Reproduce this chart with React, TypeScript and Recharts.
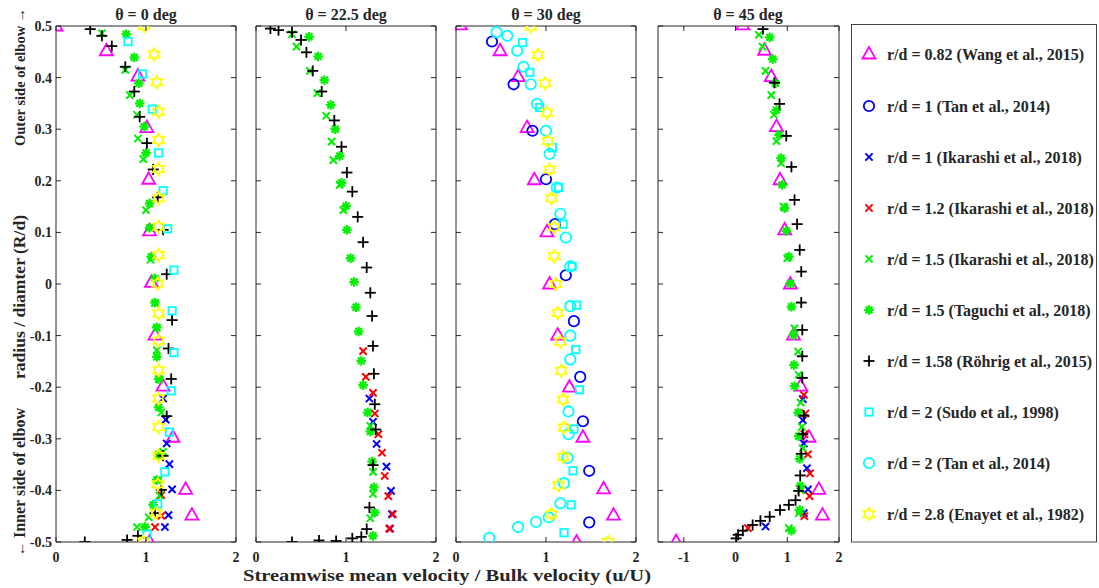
import React from 'react';
import { ScatterChart, Scatter, XAxis, YAxis, ReferenceArea } from 'recharts';

type Pt = [number, number]; // [u/U, R/d]

const FONT = '"Liberation Serif", "Times New Roman", serif';
const INK = '#262626';

// ---------- labels / ticks ----------
const panelTitles = ['θ = 0 deg', 'θ = 22.5 deg', 'θ = 30 deg', 'θ = 45 deg'];
const yTicks = [-0.5, -0.4, -0.3, -0.2, -0.1, 0, 0.1, 0.2, 0.3, 0.4, 0.5];
const xTicksStd = [0, 1, 2];
const xTicks45 = [-1, 0, 1, 2];
const xDomainStd: [number, number] = [0, 2];
const xDomain45: [number, number] = [-1.5, 2];
const xLabel = 'Streamwise mean velocity / Bulk velocity (u/U)';
const yLabelOuter = 'Outer side of elbow';
const yLabelMid = 'radius / diamter (R/d)';
const yLabelInner = 'Inner side of elbow';
const arrowUp = '→';
const arrowDown = '←';

// ---------- series meta ----------
const seriesKeys = ['wang', 'tan1', 'ika1', 'ika12', 'ika15', 'tag', 'roh', 'sudo', 'tan2', 'ena'];
const seriesLabels = [
  'r/d = 0.82 (Wang et al., 2015)',
  'r/d = 1 (Tan et al., 2014)',
  'r/d = 1 (Ikarashi et al., 2018)',
  'r/d = 1.2 (Ikarashi et al., 2018)',
  'r/d = 1.5 (Ikarashi et al., 2018)',
  'r/d = 1.5 (Taguchi et al., 2018)',
  'r/d = 1.58 (Röhrig et al., 2015)',
  'r/d = 2 (Sudo et al., 1998)',
  'r/d = 2 (Tan et al., 2014)',
  'r/d = 2.8 (Enayet et al., 1982)',
];
const seriesColors = ['#ff00ff', '#0000ff', '#0000ff', '#ff0000', '#00f000', '#00f000', '#000000', '#00ffff', '#00ffff', '#ffff00'];
const seriesShapes = ['triangle', 'circle', 'x', 'x', 'x', 'asterisk', 'plus', 'square', 'circle', 'hexagram'];

// ---------- θ = 0 deg ----------
const wang0: Pt[] = [[0, 0.5], [0.56, 0.452], [0.91, 0.403], [1.01, 0.303], [1.03, 0.203], [1.04, 0.103], [1.06, 0.003], [1.10, -0.099], [1.19, -0.198], [1.30, -0.297], [1.44, -0.398], [1.51, -0.448], [1.04, -0.5]];
const ika1_0: Pt[] = [[1.19, -0.222], [1.22, -0.263], [1.23, -0.309], [1.26, -0.349], [1.29, -0.398], [1.25, -0.448], [1.21, -0.471]];
const ika12_0: Pt[] = [[1.17, -0.409], [1.17, -0.449], [1.10, -0.471]];
const ika15_0: Pt[] = [[0.51, 0.486], [0.77, 0.415], [0.82, 0.366], [0.90, 0.328], [0.91, 0.282], [0.97, 0.242], [1.00, 0.143], [1.05, 0.047], [1.10, -0.037], [1.12, -0.085], [1.12, -0.128], [1.15, -0.185], [1.17, -0.249], [1.19, -0.325], [1.14, -0.38], [1.15, -0.41], [1.03, -0.452], [0.90, -0.471]];
const tag0: Pt[] = [[0.78, 0.484], [0.87, 0.439], [0.92, 0.389], [0.93, 0.35], [0.98, 0.305], [1.0, 0.254], [1.04, 0.156], [1.04, 0.109], [1.06, 0.053], [1.10, 0.011], [1.10, -0.036], [1.12, -0.084], [1.12, -0.141], [1.14, -0.184], [1.14, -0.239], [1.14, -0.33], [1.12, -0.38], [1.08, -0.428], [0.99, -0.471]];
const roh0: Pt[] = [[0.38, 0.494], [0.51, 0.481], [0.62, 0.461], [0.77, 0.421], [0.87, 0.373], [0.93, 0.324], [1.01, 0.273], [1.08, 0.222], [1.13, 0.168], [1.19, 0.105], [1.23, 0.019], [1.29, -0.070], [1.25, -0.125], [1.28, -0.184], [1.23, -0.256], [1.19, -0.333], [1.17, -0.399], [1.10, -0.444], [0.91, -0.488], [0.79, -0.496], [0.32, -0.5]];
const sudo0: Pt[] = [[0.80, 0.470], [0.96, 0.407], [1.07, 0.339], [1.14, 0.254], [1.19, 0.181], [1.24, 0.107], [1.31, 0.027], [1.29, -0.052], [1.31, -0.133], [1.28, -0.207], [1.26, -0.287], [1.21, -0.364], [1.13, -0.426], [1.01, -0.485]];
const ena0: Pt[] = [[0.98, 0.5], [1.09, 0.445], [1.12, 0.391], [1.14, 0.334], [1.14, 0.279], [1.14, 0.223], [1.14, 0.166], [1.14, 0.111], [1.14, 0.056], [1.13, 0.001], [1.14, -0.057], [1.14, -0.110], [1.14, -0.167], [1.14, -0.222], [1.14, -0.277], [1.14, -0.333], [1.13, -0.388], [1.11, -0.444], [0.97, -0.499]];

// ---------- θ = 22.5 deg ----------
const ika1_22: Pt[] = [[1.26, -0.222], [1.30, -0.267], [1.34, -0.310], [1.45, -0.354], [1.50, -0.401], [1.51, -0.446], [1.49, -0.474]];
const ika12_22: Pt[] = [[1.19, -0.130], [1.22, -0.180], [1.30, -0.211], [1.32, -0.251], [1.36, -0.291], [1.40, -0.327], [1.43, -0.372], [1.47, -0.411], [1.52, -0.446], [1.48, -0.474]];
const ika15_22: Pt[] = [[0.40, 0.484], [0.45, 0.460], [0.60, 0.413], [0.68, 0.370], [0.78, 0.326], [0.84, 0.276], [0.86, 0.240], [0.93, 0.192], [0.97, 0.143], [1.27, -0.275], [1.30, -0.364], [1.30, -0.407], [1.27, -0.454]];
const tag22: Pt[] = [[0.59, 0.479], [0.69, 0.441], [0.76, 0.395], [0.83, 0.347], [0.88, 0.300], [0.93, 0.248], [0.95, 0.196], [1.0, 0.151], [1.01, 0.105], [1.05, 0.050], [1.09, 0.004], [1.11, -0.045], [1.14, -0.092], [1.17, -0.149], [1.19, -0.196], [1.24, -0.249], [1.27, -0.286], [1.29, -0.344], [1.31, -0.394], [1.32, -0.443], [1.30, -0.488]];
const roh22: Pt[] = [[0.16, 0.495], [0.25, 0.492], [0.40, 0.488], [0.50, 0.473], [0.56, 0.449], [0.63, 0.413], [0.73, 0.373], [0.87, 0.317], [0.95, 0.266], [1.01, 0.216], [1.07, 0.179], [1.13, 0.130], [1.19, 0.081], [1.23, 0.032], [1.27, -0.017], [1.29, -0.062], [1.30, -0.120], [1.31, -0.174], [1.32, -0.233], [1.33, -0.282], [1.30, -0.351], [1.26, -0.433], [1.23, -0.475], [1.17, -0.490], [1.07, -0.493], [0.89, -0.498], [0.70, -0.497], [0.40, -0.5]];

// ---------- θ = 30 deg ----------
const wang30: Pt[] = [[0.05, 0.502], [0.49, 0.452], [0.69, 0.402], [0.79, 0.303], [0.87, 0.202], [1.01, 0.101], [1.04, 0.0], [1.13, -0.099], [1.26, -0.200], [1.41, -0.297], [1.64, -0.397], [1.75, -0.448], [1.34, -0.5]];
const tan1_30: Pt[] = [[0.40, 0.470], [0.64, 0.387], [0.85, 0.297], [1.0, 0.203], [1.10, 0.116], [1.22, 0.017], [1.31, -0.072], [1.38, -0.180], [1.41, -0.266], [1.48, -0.362], [1.48, -0.462]];
const sudo30: Pt[] = [[0.74, 0.468], [0.82, 0.410], [0.93, 0.342], [1.07, 0.264], [1.14, 0.187], [1.19, 0.116], [1.29, 0.034], [1.34, -0.041], [1.33, -0.127], [1.37, -0.205], [1.31, -0.281], [1.30, -0.362], [1.28, -0.428], [1.20, -0.482]];
const tan2_30: Pt[] = [[0.45, 0.488], [0.57, 0.481], [0.68, 0.452], [0.75, 0.421], [0.83, 0.387], [0.90, 0.349], [1.0, 0.297], [1.04, 0.252], [1.12, 0.187], [1.16, 0.136], [1.22, 0.090], [1.27, 0.034], [1.27, -0.043], [1.27, -0.100], [1.27, -0.146], [1.25, -0.247], [1.25, -0.291], [1.24, -0.337], [1.20, -0.386], [1.16, -0.425], [1.03, -0.452], [0.89, -0.461], [0.69, -0.471], [0.37, -0.492]];
const ena30: Pt[] = [[0.83, 0.499], [0.91, 0.444], [0.99, 0.389], [1.01, 0.332], [1.02, 0.277], [1.04, 0.222], [1.06, 0.166], [1.09, 0.110], [1.09, 0.054], [1.11, 0.0], [1.13, -0.056], [1.16, -0.112], [1.17, -0.168], [1.19, -0.224], [1.20, -0.278], [1.19, -0.335], [1.14, -0.390], [1.06, -0.446], [1.69, -0.5]];

// ---------- θ = 45 deg ----------
const wang45: Pt[] = [[0.14, 0.502], [0.56, 0.453], [0.69, 0.402], [0.79, 0.305], [0.86, 0.202], [0.95, 0.105], [1.06, 0.0], [1.12, -0.099], [1.26, -0.198], [1.42, -0.297], [1.61, -0.398], [1.68, -0.448], [-1.15, -0.499]];
const ika1_45: Pt[] = [[1.30, -0.223], [1.30, -0.264], [1.32, -0.309], [1.38, -0.357], [1.40, -0.398], [1.32, -0.444], [0.58, -0.470]];
const ika12_45: Pt[] = [[1.32, -0.215], [1.35, -0.251], [1.33, -0.291], [1.40, -0.330], [1.44, -0.367], [1.43, -0.411], [1.33, -0.450], [0.24, -0.473]];
const ika15_45: Pt[] = [[0.45, 0.483], [0.52, 0.460], [0.58, 0.413], [0.69, 0.366], [0.74, 0.328], [0.79, 0.277], [0.88, 0.234], [0.93, 0.15], [1.00, 0.05], [1.14, -0.086], [1.21, -0.131], [1.22, -0.176], [1.26, -0.23], [1.28, -0.277], [1.30, -0.318], [1.26, -0.40], [1.22, -0.444], [1.03, -0.473]];
const tag45: Pt[] = [[0.66, 0.478], [0.72, 0.436], [0.77, 0.389], [0.79, 0.337], [0.84, 0.289], [0.88, 0.244], [0.90, 0.192], [0.95, 0.147], [0.98, 0.103], [1.03, 0.053], [1.06, 0.001], [1.08, -0.044], [1.12, -0.099], [1.13, -0.157], [1.14, -0.198], [1.21, -0.249], [1.22, -0.295], [1.24, -0.339], [1.25, -0.391], [1.24, -0.438], [1.08, -0.478]];
const roh45: Pt[] = [[0.53, 0.494], [0.75, 0.39], [0.85, 0.349], [0.98, 0.287], [1.08, 0.227], [1.14, 0.163], [1.19, 0.116], [1.24, 0.066], [1.27, 0.024], [1.27, -0.036], [1.29, -0.089], [1.29, -0.140], [1.29, -0.182], [1.32, -0.255], [1.30, -0.291], [1.27, -0.329], [1.25, -0.371], [1.22, -0.401], [1.16, -0.419], [1.03, -0.428], [0.86, -0.438], [0.66, -0.451], [0.48, -0.459], [0.33, -0.467], [0.14, -0.478], [0.05, -0.486], [0.01, -0.493]];

const none: Pt[] = [];

// per panel, in legend (drawing) order
const panelSeries: Pt[][][] = [
  [wang0, none, ika1_0, ika12_0, ika15_0, tag0, roh0, sudo0, none, ena0],
  [none, none, ika1_22, ika12_22, ika15_22, tag22, roh22, none, none, none],
  [wang30, tan1_30, none, none, none, none, none, sudo30, tan2_30, ena30],
  [wang45, none, ika1_45, ika12_45, ika15_45, tag45, roh45, none, none, none],
];

// ---------- markers ----------
function Marker({ kind, color, cx, cy }: { kind: string; color: string; cx: number; cy: number }) {
  const sw = 1.8;
  switch (kind) {
    case 'triangle':
      return <polygon points={`${cx},${cy - 7} ${cx - 6.5},${cy + 4.5} ${cx + 6.5},${cy + 4.5}`} fill="none" stroke={color} strokeWidth={sw} />;
    case 'circle':
      return <circle cx={cx} cy={cy} r={5.2} fill="none" stroke={color} strokeWidth={sw} />;
    case 'x': {
      const d = 3.6;
      return (
        <g stroke={color} strokeWidth={2}>
          <line x1={cx - d} y1={cy - d} x2={cx + d} y2={cy + d} />
          <line x1={cx - d} y1={cy + d} x2={cx + d} y2={cy - d} />
        </g>
      );
    }
    case 'asterisk': {
      const d = 4.8;
      const e = 3.4;
      return (
        <g stroke={color} strokeWidth={2.2}>
          <line x1={cx - d} y1={cy} x2={cx + d} y2={cy} />
          <line x1={cx} y1={cy - d} x2={cx} y2={cy + d} />
          <line x1={cx - e} y1={cy - e} x2={cx + e} y2={cy + e} />
          <line x1={cx - e} y1={cy + e} x2={cx + e} y2={cy - e} />
        </g>
      );
    }
    case 'plus': {
      const d = 5.5;
      return (
        <g stroke={color} strokeWidth={1.8}>
          <line x1={cx - d} y1={cy} x2={cx + d} y2={cy} />
          <line x1={cx} y1={cy - d} x2={cx} y2={cy + d} />
        </g>
      );
    }
    case 'square':
      return <rect x={cx - 3.7} y={cy - 3.7} width={7.4} height={7.4} fill="none" stroke={color} strokeWidth={sw} />;
    case 'hexagram': {
      const R = 6.2;
      const r = R / Math.sqrt(3);
      const pts: string[] = [];
      for (let k = 0; k < 12; k++) {
        const a = -Math.PI / 2 + (k * Math.PI) / 6;
        const rad = k % 2 === 0 ? R : r;
        pts.push(`${cx + rad * Math.cos(a)},${cy + rad * Math.sin(a)}`);
      }
      return <polygon points={pts.join(' ')} fill="none" stroke={color} strokeWidth={sw} />;
    }
    default:
      return null;
  }
}

const fmt = (v: number) => {
  const r = Math.round(v * 10) / 10;
  return r === 0 ? '0' : String(r);
};

const CHART_H = 588;
const M_TOP = 26;
const M_BOTTOM = 16;
const X_AXIS_H = 30;
const PLOT_H = CHART_H - M_TOP - M_BOTTOM - X_AXIS_H; // 516

interface PanelProps {
  idx: number;
  left: number;
  width: number;
  yW: number;
  mr: number;
  domain: [number, number];
  xTicks: number[];
  showY: boolean;
}

function Panel({ idx, left, width, yW, mr, domain, xTicks, showY }: PanelProps) {
  const plotW = width - yW - mr;
  const series = panelSeries[idx];
  const yTick = (p: any) => {
    const { x, y, payload } = p;
    return (
      <g>
        <line x1={x} x2={x + 5} y1={y} y2={y} stroke={INK} strokeWidth={1} />
        <line x1={x + plotW} x2={x + plotW - 5} y1={y} y2={y} stroke={INK} strokeWidth={1} />
        {showY && (
          <text x={x - 4} y={y} dy="0.35em" textAnchor="end" fontFamily={FONT} fontWeight="bold" fontSize={14} fill={INK}>
            {fmt(payload.value)}
          </text>
        )}
      </g>
    );
  };
  const xTick = (p: any) => {
    const { x, y, payload } = p;
    return (
      <g>
        <line x1={x} x2={x} y1={y} y2={y - 5} stroke={INK} strokeWidth={1} />
        <line x1={x} x2={x} y1={y - PLOT_H} y2={y - PLOT_H + 5} stroke={INK} strokeWidth={1} />
        <text x={x} y={y + 20} textAnchor="middle" fontFamily={FONT} fontWeight="bold" fontSize={14} fill={INK}>
          {String(payload.value)}
        </text>
      </g>
    );
  };
  return (
    <div style={{ position: 'absolute', left, top: 0 }}>
      <ScatterChart width={width} height={CHART_H} margin={{ top: M_TOP, right: mr, bottom: M_BOTTOM, left: 0 }}>
        <XAxis
          type="number"
          dataKey="x"
          domain={domain}
          ticks={xTicks}
          interval={0}
          allowDataOverflow
          height={X_AXIS_H}
          tickSize={0}
          tickMargin={0}
          axisLine={false}
          tickLine={false}
          tick={xTick}
        />
        <YAxis
          type="number"
          dataKey="y"
          domain={[-0.5, 0.5]}
          ticks={yTicks}
          interval={0}
          allowDataOverflow
          width={yW}
          tickSize={0}
          tickMargin={0}
          axisLine={false}
          tickLine={false}
          tick={yTick}
        />
        <ReferenceArea x1={domain[0]} x2={domain[1]} y1={-0.5} y2={0.5} fill="none" fillOpacity={0} stroke={INK} strokeWidth={1} ifOverflow="visible" />
        {series.map((pts, si) =>
          pts.length ? (
            <Scatter
              key={seriesKeys[si]}
              name={seriesLabels[si]}
              data={pts.map(([u, r]) => ({ x: u, y: r }))}
              isAnimationActive={false}
              shape={(sp: any) => <Marker kind={seriesShapes[si]} color={seriesColors[si]} cx={sp.cx} cy={sp.cy} />}
            />
          ) : null
        )}
      </ScatterChart>
    </div>
  );
}

const legendRowsY = [54, 106, 157, 208, 259, 310, 361, 412, 463, 514];

export default function App() {
  return (
    <div style={{ position: 'absolute', left: 0, top: 0, width: 1099, height: 588, background: '#fff', overflow: 'hidden' }}>
      <Panel idx={0} left={0} width={246} yW={56} mr={10} domain={xDomainStd} xTicks={xTicksStd} showY />
      <Panel idx={1} left={246} width={200} yW={10} mr={10} domain={xDomainStd} xTicks={xTicksStd} showY={false} />
      <Panel idx={2} left={446} width={200} yW={10} mr={10} domain={xDomainStd} xTicks={xTicksStd} showY={false} />
      <Panel idx={3} left={646} width={203} yW={12} mr={10} domain={xDomain45} xTicks={xTicks45} showY={false} />
      <svg width={1099} height={588} style={{ position: 'absolute', left: 0, top: 0, pointerEvents: 'none' }}>
        <g fontFamily={FONT} fontWeight="bold" fill={INK}>
          {[146, 346, 546, 748].map((cx, i) => (
            <text key={i} x={cx} y={20} textAnchor="middle" fontSize={16}>
              {panelTitles[i]}
            </text>
          ))}
          <text x={447} y={581} textAnchor="middle" fontSize={16} textLength={408} lengthAdjust="spacingAndGlyphs">
            {xLabel}
          </text>
          <text transform="translate(25,146) rotate(-90)" textAnchor="start" fontSize={14.5}>
            {yLabelOuter} <tspan fontSize={14}>{arrowUp}</tspan>
          </text>
          <text transform="translate(25,297) rotate(-90)" textAnchor="middle" fontSize={16} textLength={164} lengthAdjust="spacingAndGlyphs">
            {yLabelMid}
          </text>
          <text transform="translate(25,556) rotate(-90)" textAnchor="start" fontSize={16}>
            <tspan fontSize={14}>{arrowDown}</tspan> {yLabelInner}
          </text>
        </g>
        <rect x={851.5} y={24.5} width={245} height={517.5} fill="none" stroke="#444" strokeWidth={1} />
        {seriesLabels.map((lab, i) => (
          <g key={i}>
            <Marker kind={seriesShapes[i]} color={seriesColors[i]} cx={869} cy={legendRowsY[i]} />
            <text x={887} y={legendRowsY[i]} dy="0.35em" fontFamily={FONT} fontWeight="bold" fontSize={16} fill={INK}>
              {lab}
            </text>
          </g>
        ))}
      </svg>
    </div>
  );
}
